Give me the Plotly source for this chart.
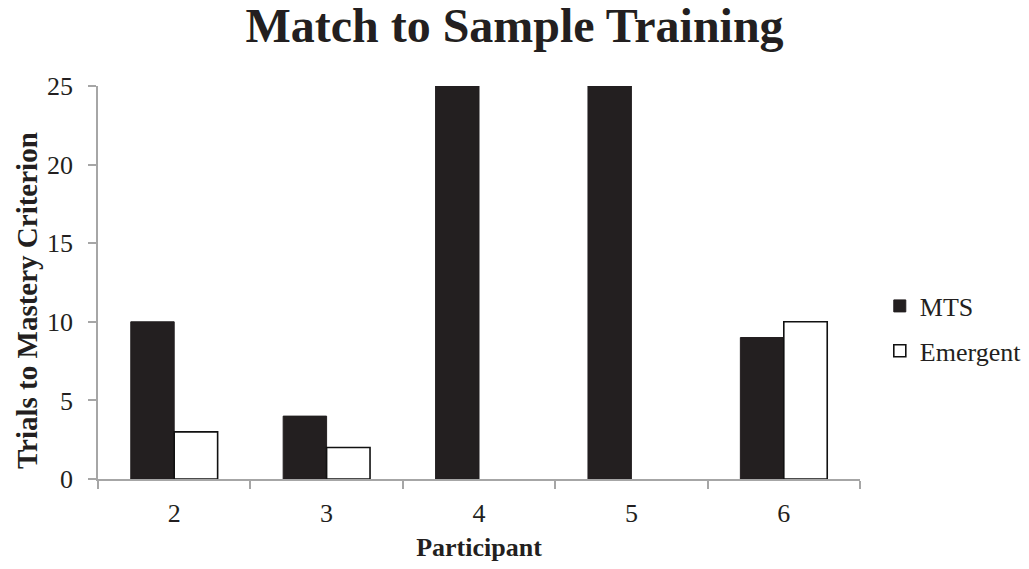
import plotly.graph_objects as go

participants = ["2", "3", "4", "5", "6"]
mts_trials = [10, 4, 25, 25, 9]
emergent_trials = [3, 2, 0, 0, 10]

font_family = "Liberation Serif, Times New Roman, serif"
text_color = "#231f20"
axis_color = "#a6a6a6"

# outline only where an Emergent bar has height
emergent_outline = [1.6 if v > 0 else 0 for v in emergent_trials]

fig = go.Figure()
fig.add_trace(go.Bar(
    x=participants, y=mts_trials, name="MTS",
    marker=dict(color=text_color, line=dict(color=text_color, width=1)),
    legendgroup="a",
))
fig.add_trace(go.Bar(
    x=participants, y=emergent_trials, name="Emergent",
    marker=dict(color="white", line=dict(color="#111111", width=emergent_outline)),
    legendgroup="b",
))

fig.update_layout(
    width=1029, height=569,
    margin=dict(l=98, r=169, t=86, b=90, autoexpand=False),
    paper_bgcolor="white", plot_bgcolor="white",
    barmode="group", bargap=0.43, bargroupgap=0,
    font=dict(family=font_family, size=26, color=text_color),
    title=dict(
        text="<b>Match to Sample Training</b>",
        font=dict(family=font_family, size=48, color=text_color),
        x=0.5, xanchor="center", xref="container",
        y=0.956, yanchor="middle", yref="container",
    ),
    legend=dict(
        xref="container", x=0.855, xanchor="left",
        yref="paper", y=0.50, yanchor="top",
        font=dict(family=font_family, size=26, color=text_color),
        traceorder="grouped", tracegroupgap=8,
        itemwidth=30,
    ),
    showlegend=True,
)

# vertical axis title, placed in the left margin
fig.add_annotation(
    text="<b>Trials to Mastery Criterion</b>",
    textangle=-90, showarrow=False,
    xref="paper", x=-0.093, xanchor="center",
    yref="paper", y=0.453, yanchor="middle",
    font=dict(family=font_family, size=29, color=text_color),
)

fig.update_xaxes(
    type="category",
    showline=True, linecolor=axis_color, linewidth=1.5,
    ticks="outside", tickson="boundaries", ticklen=8,
    tickcolor=axis_color, tickwidth=1.5,
    ticklabelstandoff=10,
    showgrid=False, zeroline=False,
    tickfont=dict(family=font_family, size=26, color=text_color),
    title=dict(text="<b>Participant</b>", standoff=11,
               font=dict(family=font_family, size=26, color=text_color)),
)
fig.update_yaxes(
    range=[0, 25], tickvals=[0, 5, 10, 15, 20, 25],
    showline=True, linecolor=axis_color, linewidth=1.5,
    ticks="outside", ticklen=8, tickcolor=axis_color, tickwidth=1.5,
    ticklabelstandoff=10,
    showgrid=False, zeroline=False,
    tickfont=dict(family=font_family, size=26, color=text_color),
)

fig.write_html("out.html")
